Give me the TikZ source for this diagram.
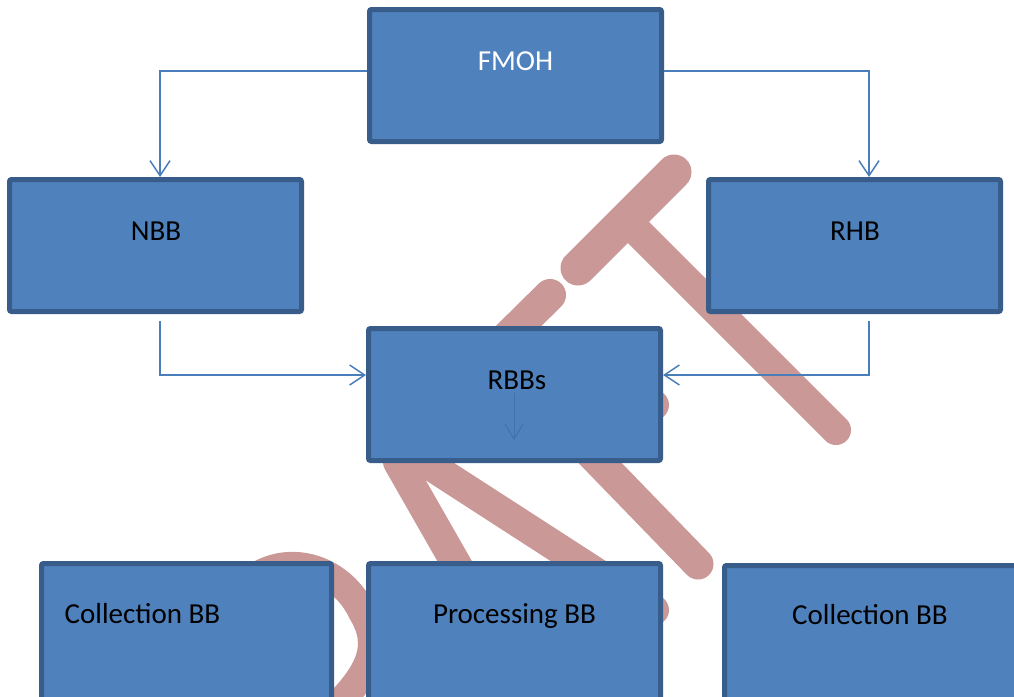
\documentclass[tikz,border=0pt]{standalone}
\usepackage{fontspec}
\setmainfont{Carlito}
\usetikzlibrary{arrows.meta,calc}
\definecolor{boxfill}{RGB}{79,129,189}
\definecolor{boxedge}{RGB}{56,93,138}
\definecolor{linkblue}{RGB}{74,126,187}
\definecolor{faintblue}{RGB}{66,113,172}
\definecolor{stamp}{RGB}{201,152,151}
\begin{document}
\begin{tikzpicture}[x=1pt,y=-1pt,
  box/.style={draw=boxedge, fill=boxfill, line width=5pt, rounded corners=2pt,
    minimum width=292pt, minimum height=132pt, inner sep=0pt},
  lowbox/.style={box, minimum height=150pt},
  lbl/.style={font=\fontsize{29}{33}\selectfont, anchor=base, inner sep=0pt},
  link/.style={draw=linkblue, line width=1.5pt, -{Straight Barb[length=15pt,width=20pt]}},
  stampline/.style={draw=stamp, line cap=round, line width=#1},
  stampline/.default=30pt
]
\useasboundingbox (0,0) rectangle (1014,696);
\clip (0,0) rectangle (1014,696);
\fill[white] (0,0) rectangle (1014,696);

% stamp strokes behind the boxes
\draw[stampline=35pt] (578,268) -- (674,172);
\draw[stampline] (632,226) -- (836,430);
\draw[stampline=32pt] (550,295) -- (470,374);
\draw[stampline] (398,462) -- (470,588);
\draw[stampline] (425,462) -- (654,610);
\draw[stampline=31pt] (510,370) -- (698,564);
\draw[stampline] (545,345) -- (654,405);
\draw[stampline=28pt] (225,615) .. controls (255,545) and (335,555) .. (362,612)
                 .. controls (382,645) and (372,672) .. (330,712);

% boxes
\node[box] (fmoh) at (515.5,75.5) {};
\node[box] (nbb)  at (155.5,245.5) {};
\node[box] (rhb)  at (854.5,245.5) {};
\node[box] (rbbs) at (514.5,394.5) {};
\node[lowbox, minimum width=290pt] (colA) at (186.5,638.5) {};
\node[lowbox] (proc) at (514.5,638.5) {};
\node[lowbox, minimum width=300pt] (colB) at (874.5,640.5) {};

% labels
\node[lbl, white] (fmoh-t) at (515.5,70) {FMOH};
\node[lbl] (nbb-t)  at (156,240) {NBB};
\node[lbl] (rhb-t)  at (855,240) {RHB};
\node[lbl] (rbbs-t) at (517,389) {RBBs};
\node[lbl] (colA-t) at (142.5,623) {Collection BB};
\node[lbl] (proc-t) at (514.5,623) {Processing BB};
\node[lbl] (colB-t) at (870,624) {Collection BB};

% connectors
\draw[link] ($(fmoh.west)+(0,-4.5)$) -| ($(nbb.north)+(4.5,0)$);
\draw[link] ($(fmoh.east)+(0,-4.5)$) -| ($(rhb.north)+(14.5,0)$);
\draw[link] ($(nbb.south)+(4.5,7)$) |- ($(rbbs.west)+(0,-19.5)$);
\draw[link] ($(rhb.south)+(14.5,7)$) |- ($(rbbs.east)+(0,-19.5)$);
\coordinate (rbbs-in) at (514,393);
\coordinate (rbbs-out) at (514,440);
\draw[draw=faintblue, line width=1pt, -{Straight Barb[length=15pt,width=18pt]}] (rbbs-in) -- (rbbs-out);
\end{tikzpicture}
\end{document}
